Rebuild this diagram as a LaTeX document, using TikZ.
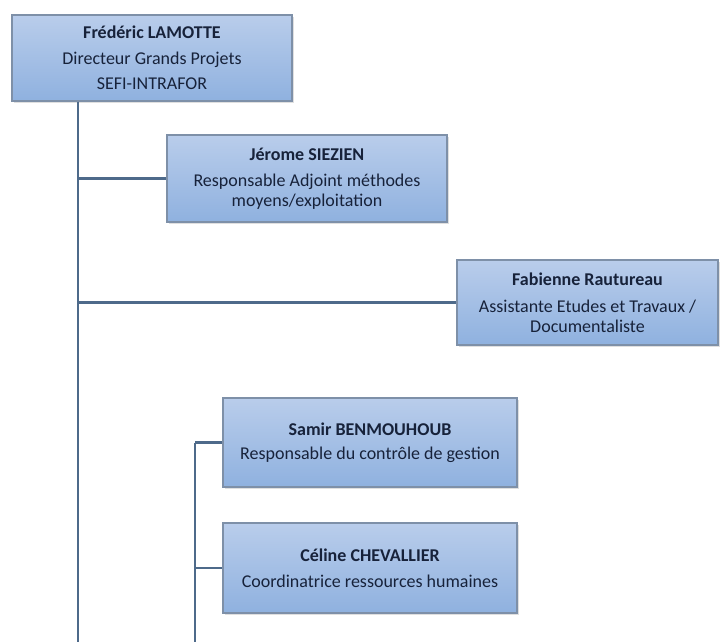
\documentclass[tikz,border=0pt]{standalone}
\usepackage{fontspec}
\setmainfont{Carlito}
\usepackage{xcolor}
\usetikzlibrary{positioning,shadows}
\definecolor{boxtop}{HTML}{B9CDEB}
\definecolor{boxbot}{HTML}{8FB1DF}
\definecolor{boxline}{HTML}{7E90A8}
\definecolor{wire}{HTML}{4E6A8A}
\definecolor{ink}{HTML}{17223A}

\begin{document}
\begin{tikzpicture}[
  x=1pt, y=-1pt,
  font=\fontsize{18}{19.5}\selectfont, text=ink,
  box/.style={draw=boxline, line width=1.4pt, align=center, inner sep=2pt,
    top color=boxtop, bottom color=boxbot,
    drop shadow={shadow xshift=1.5pt, shadow yshift=-2pt, opacity=0.25}},
  lnk/.style={draw=wire, line width=2.4pt}]

\useasboundingbox (0,0) rectangle (723,642);

\node[box, minimum width=280pt, minimum height=86pt] (boss) at (152,58)
  {\textbf{Frédéric LAMOTTE}\\[6pt]Directeur Grands Projets\\[6pt]SEFI-INTRAFOR};
\node[box, minimum width=280pt, minimum height=87pt] (siezien) at (307,178.5)
  {\textbf{Jérome SIEZIEN}\\[7pt]Responsable Adjoint méthodes\\moyens/exploitation};
\node[box, minimum width=261pt, minimum height=85pt] (rautureau) at (587.5,302.5)
  {\textbf{Fabienne Rautureau}\\[8pt]Assistante Etudes et Travaux /\\Documentaliste};
\node[box, minimum width=294pt, minimum height=89pt] (benmouhoub) at (370,442.5)
  {\textbf{Samir BENMOUHOUB}\\[5pt]Responsable du contrôle de gestion};
\node[box, minimum width=294pt, minimum height=90pt] (chevallier) at (370,568)
  {\textbf{Céline CHEVALLIER}\\[7pt]Coordinatrice ressources humaines};

\coordinate (trunk) at (78,642);
\coordinate (sub) at (195,642);

\draw[lnk] (boss.south -| trunk) -- (trunk);
\foreach \n in {siezien,rautureau} \draw[lnk] (\n.west -| trunk) -- (\n.west);
\draw[lnk] (benmouhoub.west -| sub) -- (sub);
\foreach \n in {benmouhoub,chevallier} \draw[lnk] (\n.west -| sub) -- (\n.west);
\end{tikzpicture}
\end{document}
